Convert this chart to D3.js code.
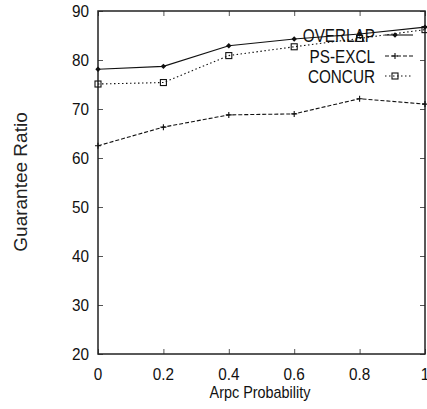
<!DOCTYPE html>
<html>
<head>
<meta charset="utf-8">
<script src="https://cdn.jsdelivr.net/npm/d3@7"></script>
<style>
  body { margin: 0; background: white; }
  text { font-family: "Liberation Sans", Arial, sans-serif; fill: #111; }
</style>
</head>
<body>
<div id="vis"></div>
<script>
// data
let probs = [0, 0.2, 0.4, 0.6, 0.8, 1]
let overlap = [78.1, 78.7, 82.9, 84.3, 85.3, 86.7]
let psExcl = [62.5, 66.3, 68.8, 69.0, 72.1, 71.0]
let concur = [75.1, 75.4, 80.9, 82.7, 84.4, 86.2]
let xTicks = [0, 0.2, 0.4, 0.6, 0.8, 1]
let xTickLabels = ['0', '0.2', '0.4', '0.6', '0.8', '1']
let yTicks = [20, 30, 40, 50, 60, 70, 80, 90]
let seriesNames = ['OVERLAP', 'PS-EXCL', 'CONCUR']

let W = 427, H = 409
let margin = { top: 11, left: 98, right: 2, bottom: 55 }

let svg = d3.select('#vis')
  .append('svg')
  .attr('width', W)
  .attr('height', H)
  .style('background-color', 'white')

let x = d3.scaleLinear().domain([0, 1]).range([margin.left, W - margin.right])
let y = d3.scaleLinear().domain([20, 90]).range([H - margin.bottom, margin.top])

// inside ticks on all four sides
let tickLen = 5
let axes = svg.append('g')
axes.append('g')
  .attr('transform', `translate(0,${y(20)})`)
  .call(d3.axisBottom(x).tickValues(xTicks).tickSize(-tickLen).tickFormat(''))
axes.append('g')
  .attr('transform', `translate(0,${y(90)})`)
  .call(d3.axisTop(x).tickValues(xTicks).tickSize(-tickLen).tickFormat(''))
axes.append('g')
  .attr('transform', `translate(${x(0)},0)`)
  .call(d3.axisLeft(y).tickValues(yTicks).tickSize(-tickLen).tickFormat(''))
axes.append('g')
  .attr('transform', `translate(${x(1)},0)`)
  .call(d3.axisRight(y).tickValues(yTicks).tickSize(-tickLen).tickFormat(''))
axes.selectAll('.domain').remove()
axes.selectAll('.tick line').attr('stroke', '#555').attr('stroke-width', 1)

// frame
svg.append('rect')
  .attr('x', x(0))
  .attr('y', y(90))
  .attr('width', x(1) - x(0))
  .attr('height', y(20) - y(90))
  .attr('fill', 'none')
  .attr('stroke', '#222')
  .attr('stroke-width', 1.5)

// tick labels
svg.append('g').selectAll('text')
  .data(yTicks)
  .join('text')
  .attr('transform', d => `translate(89,${y(d) + 6}) scale(0.9,1)`)
  .attr('text-anchor', 'end')
  .style('font-size', '17px')
  .text(d => d)

svg.append('g').selectAll('text')
  .data(xTicks)
  .join('text')
  .attr('transform', d => `translate(${x(d)},380) scale(0.9,1)`)
  .attr('text-anchor', 'middle')
  .style('font-size', '17px')
  .text((d, i) => xTickLabels[i])

// axis titles
svg.append('text')
  .attr('transform', `translate(260,398) scale(0.9,1)`)
  .attr('text-anchor', 'middle')
  .style('font-size', '16px')
  .text('Arpc Probability')

svg.append('text')
  .attr('transform', 'translate(27,182) rotate(-90)')
  .attr('text-anchor', 'middle')
  .style('font-size', '19px')
  .style('fill', '#222')
  .text('Guarantee Ratio')

// series styles
let dashes = ['none', '4,2', '1.5,2.5']
let seriesData = [overlap, psExcl, concur]

let line = d3.line()
  .x((d, i) => x(probs[i]))
  .y(d => y(d))

function drawMarker(g, k, cx, cy) {
  if (k == 0) {
    g.append('path')
      .attr('d', `M${cx},${cy - 2.7}L${cx + 2.7},${cy}L${cx},${cy + 2.7}L${cx - 2.7},${cy}Z`)
      .attr('fill', '#111')
  } else if (k == 1) {
    g.append('path')
      .attr('d', `M${cx - 3},${cy}H${cx + 3}M${cx},${cy - 3}V${cy + 3}`)
      .attr('stroke', '#111')
      .attr('stroke-width', 1.1)
  } else {
    g.append('rect')
      .attr('x', cx - 3)
      .attr('y', cy - 3)
      .attr('width', 6)
      .attr('height', 6)
      .attr('fill', 'none')
      .attr('stroke', '#111')
      .attr('stroke-width', 1.1)
  }
}

seriesData.forEach((vals, k) => {
  let g = svg.append('g')
  g.append('path')
    .datum(vals)
    .attr('d', line)
    .attr('fill', 'none')
    .attr('stroke', '#111')
    .attr('stroke-width', 1.1)
    .attr('stroke-dasharray', dashes[k])
  vals.forEach((v, i) => drawMarker(g, k, x(probs[i]), y(v)))
})

// legend
let legY = [35, 56, 76]
seriesNames.forEach((name, k) => {
  let g = svg.append('g')
  g.append('text')
    .attr('transform', `translate(375,${legY[k] + 6.5}) scale(0.85,1)`)
    .attr('text-anchor', 'end')
    .style('font-size', '18px')
    .text(name)
  g.append('line')
    .attr('x1', 385)
    .attr('x2', 413)
    .attr('y1', legY[k])
    .attr('y2', legY[k])
    .attr('stroke', '#111')
    .attr('stroke-width', 1.1)
    .attr('stroke-dasharray', dashes[k])
  drawMarker(g, k, 395, legY[k])
})
</script>
</body>
</html>
